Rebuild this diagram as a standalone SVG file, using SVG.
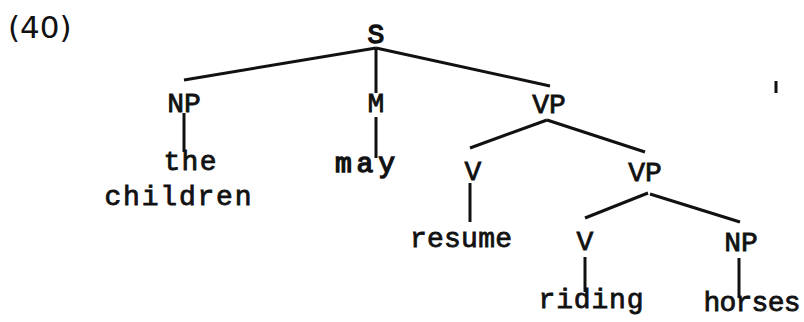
<svg xmlns="http://www.w3.org/2000/svg" width="804" height="322" viewBox="0 0 804 322">
<style>
.t{font-family:"Liberation Mono","Courier New",monospace;font-size:28px;fill:#111;stroke:#111;stroke-width:0.8;text-anchor:middle}
.b{stroke-width:1.4}
.e{stroke:#111;stroke-width:3;fill:none;stroke-linecap:butt}
</style>
<rect width="804" height="322" fill="#fff"/>
<text x="8" y="38" style="font-family:'DejaVu Sans',sans-serif;font-size:31px;fill:#111">(40)</text>
<g id="connectors">
<line class="e" x1="376" y1="48" x2="184" y2="80"/>
<line class="e" x1="376" y1="48" x2="376" y2="93"/>
<line class="e" x1="376" y1="48" x2="550" y2="86"/>
<line class="e" x1="184" y1="113" x2="184" y2="152"/>
<line class="e" x1="376" y1="117" x2="376" y2="158"/>
<line class="e" x1="547" y1="120" x2="470" y2="148"/>
<line class="e" x1="547" y1="120" x2="645" y2="152"/>
<line class="e" x1="470" y1="183" x2="470" y2="222"/>
<line class="e" x1="648" y1="193" x2="585" y2="218"/>
<line class="e" x1="650" y1="194" x2="740" y2="222"/>
<line class="e" x1="585" y1="257" x2="585" y2="292"/>
<line class="e" x1="739" y1="258" x2="739" y2="298"/>
</g>
<g id="n-S"><text class="t b" x="376" y="43">S</text></g>
<g id="n-NP1"><text class="t" x="184" y="112">NP</text></g>
<g id="n-M"><text class="t" x="376" y="112">M</text></g>
<g id="n-VP1"><text class="t" x="549" y="113">VP</text></g>
<g id="n-the-children">
<text class="t" x="190" y="170" textLength="53" lengthAdjust="spacing">the</text>
<text class="t" x="178" y="205" textLength="147" lengthAdjust="spacing">children</text>
</g>
<g id="n-may"><text class="t b" x="365" y="172" textLength="60" lengthAdjust="spacing">may</text></g>
<g id="n-V1"><text class="t" x="473" y="180">V</text></g>
<g id="n-VP2"><text class="t" x="645" y="181">VP</text></g>
<g id="n-resume"><text class="t" x="461" y="247" textLength="102" lengthAdjust="spacing">resume</text></g>
<g id="n-V2"><text class="t" x="585" y="250">V</text></g>
<g id="n-NP2"><text class="t" x="741" y="251">NP</text></g>
<g id="n-riding"><text class="t" x="591" y="308" textLength="105" lengthAdjust="spacing">riding</text></g>
<g id="n-horses"><text class="t" x="752" y="311" textLength="97" lengthAdjust="spacing">horses</text></g>
<line x1="776" y1="81" x2="776" y2="93" stroke="#111" stroke-width="3"/>
</svg>
